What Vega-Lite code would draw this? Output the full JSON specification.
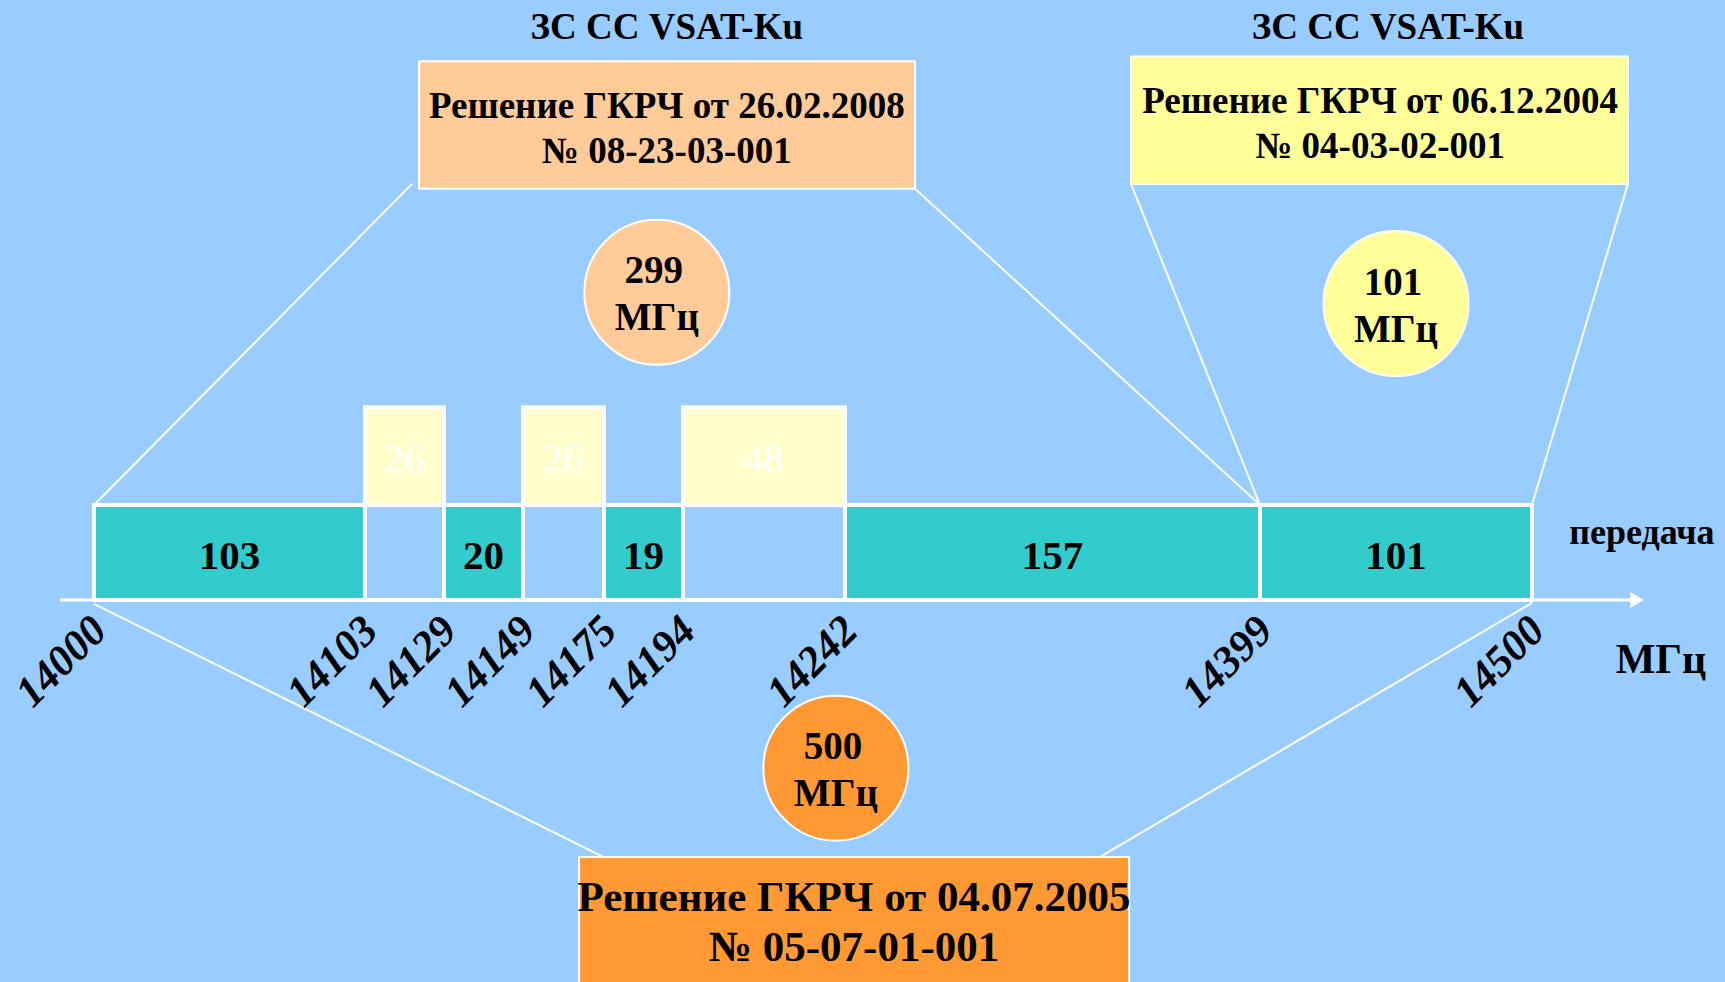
{
  "$schema": "https://vega.github.io/schema/vega-lite/v6.json",
  "width": 1725,
  "height": 982,
  "padding": 0,
  "autosize": {"type": "none"},
  "background": "#99CCFF",
  "config": {"view": {"stroke": null}, "font": "Liberation Serif"},
  "datasets": {
    "band": [
      {"f1": 14000, "f2": 14103, "bw": 103, "status": "occupied"},
      {"f1": 14103, "f2": 14129, "bw": 26, "status": "free"},
      {"f1": 14129, "f2": 14149, "bw": 20, "status": "occupied"},
      {"f1": 14149, "f2": 14175, "bw": 26, "status": "free"},
      {"f1": 14175, "f2": 14194, "bw": 19, "status": "occupied"},
      {"f1": 14194, "f2": 14242, "bw": 48, "status": "free"},
      {"f1": 14242, "f2": 14399, "bw": 157, "status": "occupied"},
      {"f1": 14399, "f2": 14500, "bw": 101, "status": "occupied"}
    ],
    "ticks": [
      {"mhz": 14000}, {"mhz": 14103}, {"mhz": 14129}, {"mhz": 14149}, {"mhz": 14175},
      {"mhz": 14194}, {"mhz": 14242}, {"mhz": 14399}, {"mhz": 14500}
    ],
    "decisions": [
      {"decision": "2008", "f1": 14120.8, "f2": 14268.5, "lv1": 4.33, "lv2": 5.67},
      {"decision": "2004", "f1": 14350.2, "f2": 14535.6, "lv1": 4.38, "lv2": 5.72},
      {"decision": "2005", "f1": 14167.0, "f2": 14349.5, "lv1": -4.3, "lv2": -2.705}
    ],
    "circles": [
      {"decision": "2008", "bw": 299, "f1": 14187.7, "lv1": 3.24},
      {"decision": "2004", "bw": 101, "f1": 14449.5, "lv1": 3.12},
      {"decision": "2005", "bw": 500, "f1": 14239.3, "lv1": -1.77}
    ],
    "connectors": [
      {"f1": 14118.5, "lv1": 4.38, "f2": 14000, "lv2": 1},
      {"f1": 14268.5, "lv1": 4.33, "f2": 14399, "lv2": 1},
      {"f1": 14350.2, "lv1": 4.38, "f2": 14399, "lv2": 1},
      {"f1": 14535.6, "lv1": 4.38, "f2": 14500, "lv2": 1},
      {"f1": 14000, "lv1": -0.04, "f2": 14174.7, "lv2": -2.705},
      {"f1": 14500, "lv1": -0.03, "f2": 14338.5, "lv2": -2.705}
    ],
    "axisline": [{"f1": 13987.1, "f2": 14536.5, "tip": 14539.0, "lv1": 0}],
    "texts": [
      {"grp": "title", "text": "ЗС СС VSAT-Ku", "f1": 14190.1, "lv1": 6.02},
      {"grp": "title", "text": "ЗС СС VSAT-Ku", "f1": 14446.5, "lv1": 6.02},
      {"grp": "box", "text": "Решение ГКРЧ от 26.02.2008", "f1": 14190.1, "lv1": 5.19},
      {"grp": "box", "text": "№ 08-23-03-001", "f1": 14190.1, "lv1": 4.72},
      {"grp": "box", "text": "Решение ГКРЧ от 06.12.2004", "f1": 14443.6, "lv1": 5.24},
      {"grp": "box", "text": "№ 04-03-02-001", "f1": 14443.6, "lv1": 4.77},
      {"grp": "bigbox", "text": "Решение ГКРЧ от 04.07.2005", "f1": 14245.4, "lv1": -3.14},
      {"grp": "bigbox", "text": "№ 05-07-01-001", "f1": 14245.4, "lv1": -3.66},
      {"grp": "dir", "text": "передача", "f1": 14540.8, "lv1": 0.705},
      {"grp": "unit", "text": "МГц", "f1": 14547.9, "lv1": -0.63}
    ]
  },
  "layer": [
    {
      "data": {"name": "connectors"},
      "mark": {"type": "rule", "stroke": "white", "strokeWidth": 2},
      "encoding": {
        "x": {"field": "f1", "type": "quantitative", "axis": null, "scale": {"type": "linear", "domain": [14000, 14103, 14129, 14149, 14175, 14194, 14242, 14399, 14500], "range": [94, 365, 444, 523, 604, 683, 845, 1260, 1532], "zero": false, "nice": false}},
        "x2": {"field": "f2"},
        "y": {"field": "lv1", "type": "quantitative", "axis": null, "scale": {"type": "linear", "domain": [0, 1], "range": [600, 505], "zero": false, "nice": false}},
        "y2": {"field": "lv2"}
      }
    },
    {
      "data": {"name": "axisline"},
      "mark": {"type": "rule", "stroke": "white", "strokeWidth": 3},
      "encoding": {
        "x": {"field": "f1", "type": "quantitative", "axis": null},
        "x2": {"field": "f2"},
        "y": {"field": "lv1", "type": "quantitative", "axis": null}
      }
    },
    {
      "data": {"name": "axisline"},
      "mark": {"type": "point", "shape": "triangle-right", "filled": true, "fill": "white", "size": 260, "opacity": 1},
      "encoding": {
        "x": {"field": "tip", "type": "quantitative", "axis": null},
        "y": {"field": "lv1", "type": "quantitative", "axis": null}
      }
    },
    {
      "data": {"name": "band"},
      "mark": {"type": "rect", "stroke": "white", "strokeWidth": 4},
      "encoding": {
        "x": {"field": "f1", "type": "quantitative", "axis": null},
        "x2": {"field": "f2"},
        "y": {"datum": 0, "type": "quantitative", "axis": null},
        "y2": {"datum": 1},
        "color": {"field": "status", "type": "nominal", "legend": null, "scale": {"domain": ["occupied", "free"], "range": ["#33CCCC", "#99CCFF"]}}
      }
    },
    {
      "data": {"name": "band"},
      "transform": [{"filter": "datum.status === 'free'"}],
      "mark": {"type": "rect", "stroke": "white", "strokeWidth": 4, "fill": "#FFFFCC"},
      "encoding": {
        "x": {"field": "f1", "type": "quantitative", "axis": null},
        "x2": {"field": "f2"},
        "y": {"datum": 1, "type": "quantitative", "axis": null},
        "y2": {"datum": 2.03}
      }
    },
    {
      "data": {"name": "decisions"},
      "mark": {"type": "rect", "stroke": "white", "strokeWidth": 2},
      "encoding": {
        "x": {"field": "f1", "type": "quantitative", "axis": null},
        "x2": {"field": "f2"},
        "y": {"field": "lv1", "type": "quantitative", "axis": null},
        "y2": {"field": "lv2"},
        "fill": {"field": "decision", "type": "nominal", "legend": null, "scale": {"domain": ["2008", "2004", "2005"], "range": ["#FFCC99", "#FFFF99", "#FF9933"]}}
      }
    },
    {
      "data": {"name": "circles"},
      "mark": {"type": "point", "shape": "circle", "filled": true, "size": 21025, "stroke": "white", "strokeWidth": 2, "opacity": 1},
      "encoding": {
        "x": {"field": "f1", "type": "quantitative", "axis": null},
        "y": {"field": "lv1", "type": "quantitative", "axis": null},
        "fill": {"field": "decision", "type": "nominal", "legend": null}
      }
    },
    {
      "data": {"name": "band"},
      "transform": [{"filter": "datum.status === 'occupied'"}, {"fold": ["f1", "f2"], "as": ["edge", "mhz"]}],
      "mark": {"type": "text", "fontSize": 41, "fontWeight": "bold", "fill": "#000000", "baseline": "middle", "align": "center"},
      "encoding": {
        "x": {"aggregate": "mean", "field": "mhz", "type": "quantitative", "axis": null},
        "y": {"datum": 0.45, "type": "quantitative", "axis": null},
        "text": {"field": "bw", "type": "quantitative"},
        "detail": {"field": "f1", "type": "quantitative"}
      }
    },
    {
      "data": {"name": "band"},
      "transform": [{"filter": "datum.status === 'free'"}, {"fold": ["f1", "f2"], "as": ["edge", "mhz"]}],
      "mark": {"type": "text", "fontSize": 40, "fontWeight": "normal", "fill": "#FFFFFF", "baseline": "middle", "align": "center"},
      "encoding": {
        "x": {"aggregate": "mean", "field": "mhz", "type": "quantitative", "axis": null},
        "y": {"datum": 1.47, "type": "quantitative", "axis": null},
        "text": {"field": "bw", "type": "quantitative"},
        "detail": {"field": "f1", "type": "quantitative"}
      }
    },
    {
      "data": {"name": "ticks"},
      "mark": {"type": "text", "fontSize": 43, "fontWeight": "bold", "fontStyle": "italic", "fill": "#000000", "align": "right", "baseline": "middle", "angle": -45, "dx": 4, "dy": 4},
      "encoding": {
        "x": {"field": "mhz", "type": "quantitative", "axis": null},
        "y": {"datum": -0.25, "type": "quantitative", "axis": null},
        "text": {"field": "mhz", "type": "quantitative", "format": "d"}
      }
    },
    {
      "data": {"name": "texts"},
      "transform": [{"filter": "datum.grp === 'title'"}],
      "mark": {"type": "text", "fontSize": 37, "fontWeight": "bold", "fill": "#000000", "align": "center", "baseline": "middle"},
      "encoding": {
        "x": {"field": "f1", "type": "quantitative", "axis": null},
        "y": {"field": "lv1", "type": "quantitative", "axis": null},
        "text": {"field": "text", "type": "nominal"}
      }
    },
    {
      "data": {"name": "texts"},
      "transform": [{"filter": "datum.grp === 'box'"}],
      "mark": {"type": "text", "fontSize": 37, "fontWeight": "bold", "fill": "#000000", "align": "center", "baseline": "middle"},
      "encoding": {
        "x": {"field": "f1", "type": "quantitative", "axis": null},
        "y": {"field": "lv1", "type": "quantitative", "axis": null},
        "text": {"field": "text", "type": "nominal"}
      }
    },
    {
      "data": {"name": "texts"},
      "transform": [{"filter": "datum.grp === 'bigbox'"}],
      "mark": {"type": "text", "fontSize": 43, "fontWeight": "bold", "fill": "#000000", "align": "center", "baseline": "middle"},
      "encoding": {
        "x": {"field": "f1", "type": "quantitative", "axis": null},
        "y": {"field": "lv1", "type": "quantitative", "axis": null},
        "text": {"field": "text", "type": "nominal"}
      }
    },
    {
      "data": {"name": "texts"},
      "transform": [{"filter": "datum.grp === 'dir'"}],
      "mark": {"type": "text", "fontSize": 36, "fontWeight": "bold", "fill": "#000000", "align": "center", "baseline": "middle"},
      "encoding": {
        "x": {"field": "f1", "type": "quantitative", "axis": null},
        "y": {"field": "lv1", "type": "quantitative", "axis": null},
        "text": {"field": "text", "type": "nominal"}
      }
    },
    {
      "data": {"name": "texts"},
      "transform": [{"filter": "datum.grp === 'unit'"}],
      "mark": {"type": "text", "fontSize": 42, "fontWeight": "bold", "fill": "#000000", "align": "center", "baseline": "middle"},
      "encoding": {
        "x": {"field": "f1", "type": "quantitative", "axis": null},
        "y": {"field": "lv1", "type": "quantitative", "axis": null},
        "text": {"field": "text", "type": "nominal"}
      }
    },
    {
      "data": {"name": "circles"},
      "mark": {"type": "text", "fontSize": 39, "fontWeight": "bold", "fill": "#000000", "align": "center", "baseline": "middle", "dy": -21, "dx": -3},
      "encoding": {
        "x": {"field": "f1", "type": "quantitative", "axis": null},
        "y": {"field": "lv1", "type": "quantitative", "axis": null},
        "text": {"field": "bw", "type": "quantitative"}
      }
    },
    {
      "data": {"name": "circles"},
      "mark": {"type": "text", "fontSize": 39, "fontWeight": "bold", "fill": "#000000", "align": "center", "baseline": "middle", "dy": 26},
      "encoding": {
        "x": {"field": "f1", "type": "quantitative", "axis": null},
        "y": {"field": "lv1", "type": "quantitative", "axis": null},
        "text": {"value": "МГц"}
      }
    }
  ]
}
